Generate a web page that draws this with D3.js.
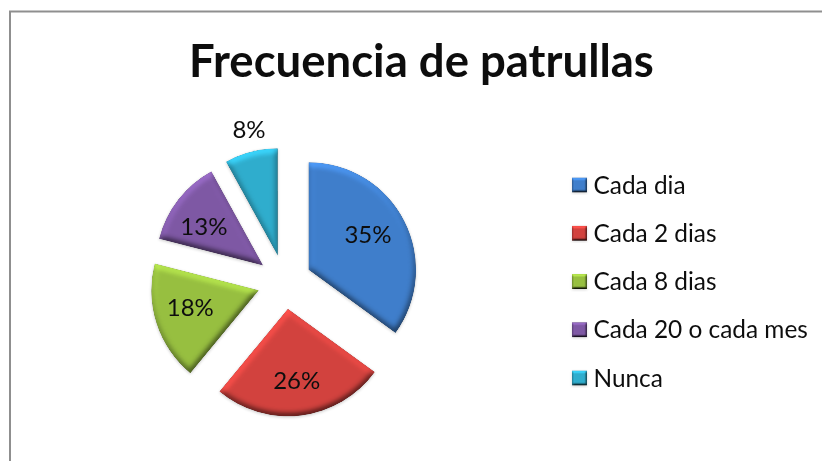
<!DOCTYPE html>
<html>
<head>
<meta charset="utf-8">
<script src="https://cdn.jsdelivr.net/npm/d3@7"></script>
<style>
  html, body { margin: 0; padding: 0; background: #fff; overflow: hidden; }
  text { font-family: Lato, "Open Sans", sans-serif; fill: #111; }
</style>
</head>
<body>
<svg id="chart" width="822" height="461"></svg>
<script>
// Chart values
const title = "Frecuencia de patrullas";
const categories = ["Cada dia", "Cada 2 dias", "Cada 8 dias", "Cada 20 o cada mes", "Nunca"];
const percents = [35, 26, 18, 13, 8];
const colors = ["#3f7ecb", "#d2423e", "#97bf40", "#7e58a4", "#2fadcd"];

const width = 822, height = 461;
const center = { x: 284.5, y: 282 };
const radius = 107.5;
const explode = 27;
// Hand tweaks so the labels sit where they do in the picture
const labelNudge = [[-3, -3], [0, 2], [-2, -4], [-4, 4], [3, -2]];

const svg = d3.select("#chart");
const defs = svg.append("defs");

// Bevel look: light the blurred alpha, then multiply with the fill
function addBevel(id, blur, scale, shadow) {
  const f = defs.append("filter").attr("id", id)
      .attr("x", "-15%").attr("y", "-15%").attr("width", "130%").attr("height", "130%")
      .attr("color-interpolation-filters", "sRGB");
  f.append("feGaussianBlur").attr("in", "SourceAlpha").attr("stdDeviation", blur).attr("result", "bump");
  const light = f.append("feDiffuseLighting").attr("in", "bump")
      .attr("surfaceScale", scale).attr("diffuseConstant", 1)
      .attr("lighting-color", "#fff").attr("result", "lit");
  light.append("feDistantLight").attr("azimuth", 255).attr("elevation", 55);
  f.append("feComposite").attr("in", "SourceGraphic").attr("in2", "lit")
      .attr("operator", "arithmetic").attr("k1", 1.22).attr("k2", 0).attr("k3", 0).attr("k4", 0)
      .attr("result", "shaded");
  f.append("feComposite").attr("in", "shaded").attr("in2", "SourceAlpha").attr("operator", "in").attr("result", "clipped");
  f.append("feGaussianBlur").attr("in", "clipped").attr("stdDeviation", 0.6).attr("result", "soft");
  f.append("feGaussianBlur").attr("in", "SourceAlpha").attr("stdDeviation", 1.5).attr("result", "sb");
  f.append("feOffset").attr("in", "sb").attr("dy", 1).attr("result", "so");
  f.append("feComponentTransfer").attr("in", "so").attr("result", "shadow")
    .append("feFuncA").attr("type", "linear").attr("slope", shadow);
  const m = f.append("feMerge");
  m.append("feMergeNode").attr("in", "shadow");
  m.append("feMergeNode").attr("in", "soft");
}
addBevel("bevel", 3, 2.5, 0.2);
addBevel("bevelSmall", 1.2, 2, 0.15);

// Text in the picture is a bit soft
defs.append("filter").attr("id", "soften")
  .append("feGaussianBlur").attr("stdDeviation", 0.35);

// Frame, only the top and left edges are in the picture
svg.append("path")
    .attr("d", `M10,${height} V11.5 H${width}`)
    .attr("fill", "none")
    .attr("stroke", "#8f8f8f")
    .attr("stroke-width", 2);

svg.append("text")
    .attr("x", 421.5)
    .attr("y", 77)
    .attr("text-anchor", "middle")
    .attr("font-size", 45.5)
    .attr("font-weight", 700)
    .attr("filter", "url(#soften)")
    .text(title);

// Pie
const pie = d3.pie().sort(null).value(d => d);
const arc = d3.arc().innerRadius(0).outerRadius(radius);
const arcs = pie(percents);
const dir = d => {
  const a = (d.startAngle + d.endAngle) / 2;
  return [Math.sin(a), -Math.cos(a)];
};

const pieG = svg.append("g").attr("transform", `translate(${center.x},${center.y})`);

pieG.selectAll("path.slice")
    .data(arcs)
  .join("path")
    .attr("class", "slice")
    .attr("d", arc)
    .attr("fill", (d, i) => colors[i])
    .attr("filter", "url(#bevel)")
    .attr("transform", d => {
      const [dx, dy] = dir(d);
      return `translate(${dx * explode},${dy * explode})`;
    });

// Small slices get their label outside
pieG.selectAll("text.label")
    .data(arcs)
  .join("text")
    .attr("class", "label")
    .attr("x", (d, i) => dir(d)[0] * (explode + (d.data < 10 ? 128 : 70)) + labelNudge[i][0])
    .attr("y", (d, i) => dir(d)[1] * (explode + (d.data < 10 ? 128 : 70)) + labelNudge[i][1])
    .attr("dy", "0.35em")
    .attr("text-anchor", "middle")
    .attr("font-size", 24)
    .attr("filter", "url(#soften)")
    .text(d => d.data + "%");

// Legend
const legendY = d3.scalePoint().domain(categories).range([185, 378]);

const legend = svg.selectAll("g.legend")
    .data(categories)
  .join("g")
    .attr("class", "legend")
    .attr("transform", d => `translate(572,${legendY(d)})`);

legend.append("rect")
    .attr("y", -7.5)
    .attr("width", 15)
    .attr("height", 15)
    .attr("fill", (d, i) => colors[i])
    .attr("filter", "url(#bevelSmall)");

legend.append("text")
    .attr("x", 21.5)
    .attr("dy", "0.35em")
    .attr("font-size", 24.4)
    .attr("filter", "url(#soften)")
    .text(d => d);
</script>
</body>
</html>
